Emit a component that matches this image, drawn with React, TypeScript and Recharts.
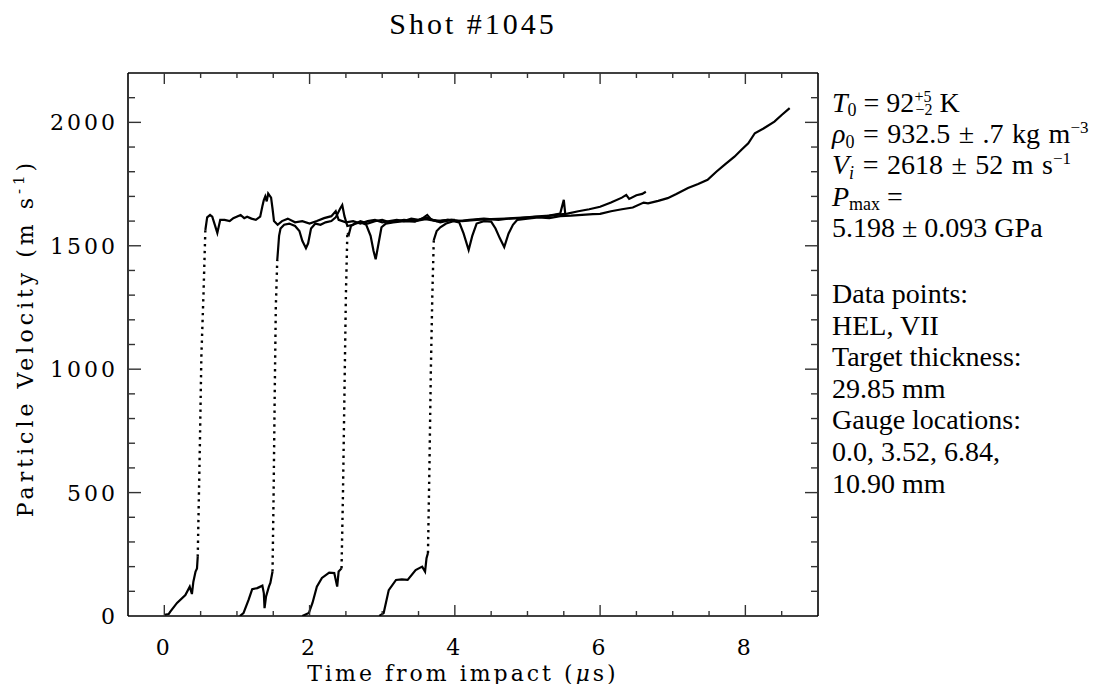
import React from 'react'
import { LineChart, Line, XAxis, YAxis } from 'recharts'

// gauge traces: [time (us), particle velocity (m/s)]
// each gauge = ramp (solid), shock jump (sparse points, dotted), plateau (solid)
const gauge1Ramp: [number, number][] = [
  [0, 5], [0.06, 8], [0.08, 17], [0.175, 53], [0.29, 85], [0.35, 119], [0.38, 89],
  [0.4, 139], [0.43, 180], [0.45, 193], [0.46, 240],
]
const gauge1Jump: [number, number][] = [
  [0.46, 240], [0.49, 700], [0.51, 1050], [0.54, 1310], [0.565, 1564],
]
const gauge1Plateau: [number, number][] = [
  [0.565, 1564], [0.59, 1615], [0.63, 1625], [0.66, 1618], [0.69, 1590], [0.73, 1552],
  [0.77, 1605], [0.83, 1605], [0.9, 1600], [0.95, 1612], [1.05, 1625], [1.1, 1612],
  [1.14, 1618], [1.2, 1610], [1.26, 1605], [1.32, 1618], [1.35, 1660], [1.37, 1685],
  [1.39, 1700], [1.41, 1680], [1.43, 1712], [1.47, 1695], [1.49, 1650], [1.51, 1600],
  [1.56, 1585], [1.62, 1600], [1.7, 1610], [1.8, 1595], [1.9, 1600], [2.0, 1590],
  [2.1, 1600], [2.2, 1612], [2.3, 1620], [2.36, 1640], [2.4, 1605], [2.5, 1595],
  [2.6, 1600], [2.7, 1590], [2.8, 1600], [2.9, 1605], [3.0, 1595], [3.1, 1600],
  [3.2, 1605], [3.3, 1600], [3.4, 1610], [3.5, 1605], [3.6, 1615], [3.7, 1605],
  [3.8, 1600], [3.9, 1605], [4.0, 1605],
]

const gauge2Ramp: [number, number][] = [
  [1.04, 0], [1.09, 12], [1.16, 65], [1.21, 109], [1.28, 113], [1.35, 123], [1.37, 93],
  [1.38, 32], [1.4, 78], [1.44, 119], [1.46, 134], [1.49, 180],
]
const gauge2Jump: [number, number][] = [
  [1.49, 180], [1.505, 500], [1.52, 900], [1.535, 1250], [1.555, 1442],
]
const gauge2Plateau: [number, number][] = [
  [1.555, 1442], [1.565, 1480], [1.58, 1540], [1.6, 1570], [1.65, 1585], [1.72, 1590],
  [1.8, 1580], [1.86, 1560], [1.9, 1520], [1.95, 1490], [1.98, 1510], [2.02, 1570],
  [2.08, 1590], [2.15, 1585], [2.22, 1595], [2.3, 1600], [2.36, 1615], [2.42, 1650],
  [2.45, 1665], [2.48, 1620], [2.52, 1580], [2.6, 1585], [2.7, 1600], [2.8, 1590],
  [2.9, 1600], [3.0, 1605], [3.1, 1595], [3.2, 1600], [3.3, 1605], [3.45, 1600],
  [3.6, 1608], [3.75, 1600], [3.9, 1605], [4.05, 1600], [4.2, 1605], [4.4, 1610],
  [4.6, 1605], [4.8, 1612], [5.0, 1615], [5.2, 1618], [5.4, 1625], [5.55, 1630],
  [5.7, 1640], [5.85, 1648], [6.0, 1658], [6.15, 1675], [6.3, 1695], [6.36, 1706],
  [6.4, 1690], [6.5, 1705], [6.58, 1710], [6.63, 1719],
]

const gauge3Ramp: [number, number][] = [
  [1.9, 0], [1.99, 12], [2.04, 53], [2.1, 119], [2.17, 154], [2.27, 176], [2.34, 174],
  [2.38, 119], [2.4, 180], [2.44, 193],
]
const gauge3Jump: [number, number][] = [
  [2.44, 193], [2.46, 500], [2.48, 900], [2.5, 1300], [2.52, 1552],
]
const gauge3Plateau: [number, number][] = [
  [2.52, 1552], [2.54, 1545], [2.57, 1580], [2.62, 1590], [2.7, 1595], [2.78, 1585],
  [2.84, 1540], [2.88, 1480], [2.91, 1445], [2.95, 1510], [2.99, 1575], [3.05, 1590],
  [3.15, 1595], [3.3, 1600], [3.45, 1598], [3.55, 1610], [3.62, 1625], [3.68, 1605],
  [3.8, 1595], [3.95, 1605], [4.1, 1600], [4.3, 1605], [4.5, 1608], [4.7, 1610],
  [4.9, 1612], [5.1, 1618], [5.3, 1622], [5.45, 1630], [5.5, 1686], [5.52, 1630],
]

const gauge4Ramp: [number, number][] = [
  [2.96, 0], [3.02, 12], [3.09, 105], [3.19, 146], [3.27, 148], [3.35, 146],
  [3.46, 186], [3.55, 200], [3.59, 180], [3.61, 234], [3.63, 255],
]
const gauge4Jump: [number, number][] = [
  [3.63, 255], [3.65, 600], [3.67, 1000], [3.69, 1300], [3.71, 1523],
]
const gauge4Plateau: [number, number][] = [
  [3.71, 1523], [3.75, 1560], [3.8, 1575], [3.88, 1590], [3.98, 1600], [4.06, 1595],
  [4.12, 1550], [4.19, 1483], [4.24, 1540], [4.3, 1590], [4.4, 1600], [4.5, 1598],
  [4.56, 1570], [4.62, 1530], [4.68, 1495], [4.74, 1550], [4.8, 1585], [4.86, 1605],
  [5.0, 1610], [5.15, 1615], [5.3, 1612], [5.45, 1620], [5.6, 1622], [5.75, 1625],
  [5.9, 1628], [6.0, 1629], [6.15, 1640], [6.3, 1648], [6.45, 1655], [6.6, 1675],
  [6.66, 1672], [6.8, 1682], [6.93, 1693], [7.05, 1710], [7.21, 1734], [7.35, 1750],
  [7.48, 1767], [7.6, 1800], [7.72, 1830], [7.85, 1861], [7.95, 1890], [8.04, 1915],
  [8.13, 1956], [8.25, 1975], [8.4, 2003], [8.5, 2030], [8.61, 2058],
]

const solidSegments = [
  gauge1Ramp, gauge1Plateau, gauge2Ramp, gauge2Plateau,
  gauge3Ramp, gauge3Plateau, gauge4Ramp, gauge4Plateau,
]
const dottedSegments = [gauge1Jump, gauge2Jump, gauge3Jump, gauge4Jump]

const timeTicks = [0, 0.5, 1, 1.5, 2, 2.5, 3, 3.5, 4, 4.5, 5, 5.5, 6, 6.5, 7, 7.5, 8, 8.5]
const timeLabels = [0, 2, 4, 6, 8]
const velTicks = [
  0, 100, 200, 300, 400, 500, 600, 700, 800, 900, 1000, 1100,
  1200, 1300, 1400, 1500, 1600, 1700, 1800, 1900, 2000, 2100,
]
const velLabels = [0, 500, 1000, 1500, 2000]

const toPts = (seg: [number, number][]) => seg.map(([t, v]) => ({ t, v }))

const tickFont = { fontFamily: 'DejaVu Serif', fontSize: 22, letterSpacing: 3 }
const textFont = { fontFamily: 'Liberation Serif', fontSize: 28 }

const W = 1087
const H = 676

function BottomTick(props: any) {
  const { x, y, payload } = props
  const major = timeLabels.includes(payload.value)
  return (
    <g>
      <line x1={x} x2={x} y1={y} y2={y - (major ? 11 : 5)} stroke="#333" strokeWidth={1.4} />
      {major && (
        <text x={x} y={y + 39} textAnchor="middle" fill="#000" style={tickFont}>
          {payload.value}
        </text>
      )}
    </g>
  )
}

function TopTick(props: any) {
  const { x, y, payload } = props
  const major = timeLabels.includes(payload.value)
  return <line x1={x} x2={x} y1={y} y2={y + (major ? 11 : 5)} stroke="#333" strokeWidth={1.4} />
}

function LeftTick(props: any) {
  const { x, y, payload } = props
  const major = velLabels.includes(payload.value)
  return (
    <g>
      {payload.value > 0 && (
        <line x1={x} x2={x + (major ? 13 : 7)} y1={y} y2={y} stroke="#333" strokeWidth={1.4} />
      )}
      {major && (
        <text x={x - 10} y={y + 8} textAnchor="end" fill="#000" style={tickFont}>
          {payload.value}
        </text>
      )}
    </g>
  )
}

function RightTick(props: any) {
  const { x, y, payload } = props
  const major = velLabels.includes(payload.value)
  if (payload.value <= 0) return <g />
  return <line x1={x} x2={x - (major ? 13 : 7)} y1={y} y2={y} stroke="#333" strokeWidth={1.4} />
}

const noteTail = '5.198 ± 0.093 GPa'
const noteLines = [
  'Data points:', 'HEL, VII', 'Target thickness:', '29.85 mm',
  'Gauge locations:', '0.0, 3.52, 6.84,', '10.90 mm',
]

export default function App() {
  const x0 = 824
  const base1 = 104
  const step1 = 31.2
  const base2 = 295
  const step2 = 31.6
  const axisLine = { stroke: '#000', strokeWidth: 1.6 }
  return (
    <div style={{ position: 'relative', width: W, height: H }}>
      <LineChart
        width={W}
        height={H}
        margin={{ top: 64, right: 276, bottom: 67, left: 119 }}
      >
        <XAxis
          xAxisId="b"
          type="number"
          dataKey="t"
          domain={[-0.5, 9]}
          ticks={timeTicks}
          height={1}
          tickSize={0}
          tickMargin={0}
          tick={<BottomTick />}
          interval={0}
          axisLine={axisLine}
          allowDataOverflow
        />
        <XAxis
          xAxisId="top"
          orientation="top"
          type="number"
          dataKey="t"
          domain={[-0.5, 9]}
          ticks={timeTicks}
          height={1}
          tickSize={0}
          tickMargin={0}
          tick={<TopTick />}
          interval={0}
          axisLine={axisLine}
          allowDataOverflow
        />
        <YAxis
          yAxisId="l"
          type="number"
          domain={[0, 2200]}
          ticks={velTicks}
          width={1}
          tickSize={0}
          tickMargin={0}
          tick={<LeftTick />}
          interval={0}
          axisLine={axisLine}
          allowDataOverflow
        />
        <YAxis
          yAxisId="right"
          orientation="right"
          type="number"
          domain={[0, 2200]}
          ticks={velTicks}
          width={1}
          tickSize={0}
          tickMargin={0}
          tick={<RightTick />}
          interval={0}
          axisLine={axisLine}
          allowDataOverflow
        />
        {solidSegments.map((seg, i) => (
          <Line
            key={'s' + i}
            xAxisId="b"
            yAxisId="l"
            data={toPts(seg)}
            dataKey="v"
            type="linear"
            stroke="#000"
            strokeWidth={2.2}
            dot={false}
            isAnimationActive={false}
          />
        ))}
        {dottedSegments.map((seg, i) => (
          <Line
            key={'d' + i}
            xAxisId="b"
            yAxisId="l"
            data={toPts(seg)}
            dataKey="v"
            type="linear"
            stroke="#000"
            strokeWidth={2.4}
            strokeDasharray="2.4 4.5"
            dot={false}
            isAnimationActive={false}
          />
        ))}
        {/* invisible carrier so the top / right axes get a domain */}
        <Line
          xAxisId="top"
          yAxisId="right"
          data={toPts(gauge4Plateau)}
          dataKey="v"
          stroke="none"
          dot={false}
          isAnimationActive={false}
        />
      </LineChart>
      <svg
        width={W}
        height={H}
        style={{ position: 'absolute', left: 0, top: 0, overflow: 'visible', pointerEvents: 'none' }}
      >
        <text x={465} y={26} textAnchor="middle" style={{ ...textFont, fontSize: 30, letterSpacing: 3 }}>
          Shot #1045
        </text>
        <text x={455} y={673} textAnchor="middle" style={tickFont}>
          Time from impact (<tspan fontStyle="italic">μ</tspan>s)
        </text>
        <text
          x={25}
          y={330}
          textAnchor="middle"
          transform="rotate(-90 25 330)"
          style={{ ...tickFont, letterSpacing: 4 }}
        >
          Particle Velocity (m s<tspan dy={-9} fontSize={15}>-1</tspan>
          <tspan dy={9}>)</tspan>
        </text>
        <g style={textFont}>
          <text x={x0} y={base1}>
            <tspan fontStyle="italic">T</tspan>
            <tspan dy={4} fontSize={18}>0</tspan>
            <tspan dy={-4}> = 92</tspan>
            <tspan dy={-10} fontSize={16}>+5</tspan>
            <tspan dx={-16} dy={13} fontSize={16}>−2</tspan>
            <tspan dy={-3}> K</tspan>
          </text>
          <text x={x0} y={base1 + step1} style={{ wordSpacing: 1.5 }}>
            <tspan fontStyle="italic">ρ</tspan>
            <tspan dy={5} fontSize={18}>0</tspan>
            <tspan dy={-5}> = 932.5 ± .7 kg m</tspan>
            <tspan dy={-10} fontSize={17}>−3</tspan>
          </text>
          <text x={x0} y={base1 + step1 * 2} style={{ wordSpacing: 1.5 }}>
            <tspan fontStyle="italic">V</tspan>
            <tspan dy={5} fontSize={18} fontStyle="italic">i</tspan>
            <tspan dy={-5}> = 2618 ± 52 m s</tspan>
            <tspan dy={-10} fontSize={17}>−1</tspan>
          </text>
          <text x={x0} y={base1 + step1 * 3}>
            <tspan fontStyle="italic">P</tspan>
            <tspan dy={4} fontSize={18}>max</tspan>
            <tspan dy={-4}> =</tspan>
          </text>
          <text x={x0} y={base1 + step1 * 4}>{noteTail}</text>
          {noteLines.map((s, i) => (
            <text key={s} x={x0} y={base2 + step2 * i}>{s}</text>
          ))}
        </g>
      </svg>
    </div>
  )
}
